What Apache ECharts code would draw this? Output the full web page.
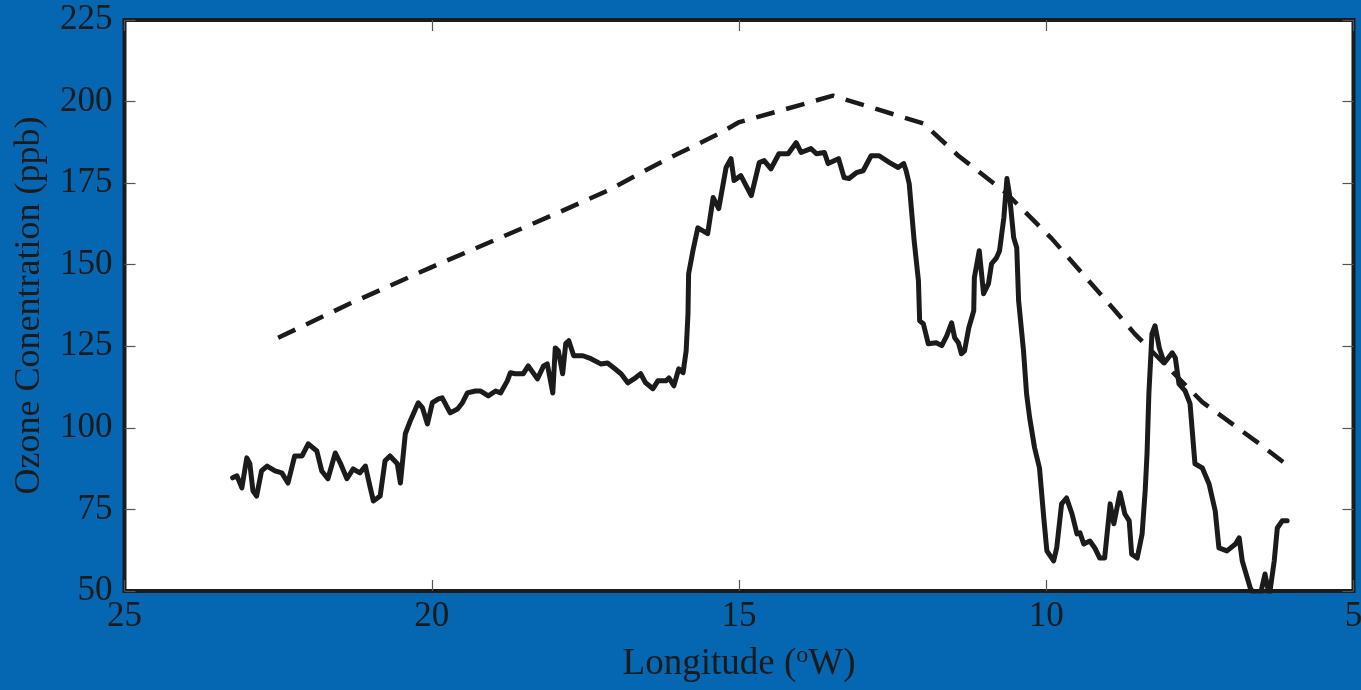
<!DOCTYPE html>
<html>
<head>
<meta charset="utf-8">
<script src="https://cdn.jsdelivr.net/npm/echarts@6/dist/echarts.min.js"></script>
<style>
html,body{margin:0;padding:0;background:#0567b1;}
#chart{width:1361px;height:690px;}
</style>
</head>
<body>
<div id="chart"></div>
<script>
// Measured ozone (solid line): longitude (°W) and concentration (ppb)
const measuredLon = [23.24,23.17,23.09,23.01,22.96,22.91,22.85,22.77,22.68,22.55,22.44,22.34,22.23,22.11,22.01,21.87,21.79,21.69,21.57,21.49,21.38,21.28,21.17,21.08,21.00,20.95,20.84,20.76,20.68,20.56,20.51,20.43,20.35,20.22,20.15,20.07,19.99,19.89,19.83,19.70,19.58,19.50,19.42,19.29,19.21,19.08,18.96,18.88,18.77,18.72,18.64,18.51,18.43,18.28,18.18,18.12,18.03,17.99,17.94,17.87,17.82,17.77,17.69,17.54,17.41,17.25,17.14,17.04,16.92,16.81,16.71,16.60,16.52,16.40,16.32,16.19,16.14,16.06,15.98,15.91,15.86,15.83,15.82,15.75,15.67,15.51,15.42,15.33,15.21,15.13,15.08,14.97,14.80,14.67,14.59,14.48,14.35,14.20,14.07,13.99,13.83,13.74,13.61,13.55,13.38,13.29,13.21,13.09,12.98,12.85,12.72,12.55,12.41,12.32,12.28,12.23,12.15,12.08,12.06,12.00,11.92,11.79,11.70,11.62,11.54,11.49,11.43,11.38,11.33,11.26,11.18,11.17,11.09,11.02,10.94,10.89,10.81,10.76,10.69,10.64,10.60,10.53,10.48,10.45,10.37,10.32,10.27,10.19,10.11,10.04,9.99,9.88,9.83,9.75,9.67,9.58,9.50,9.45,9.39,9.29,9.21,9.13,9.05,8.96,8.90,8.80,8.72,8.65,8.61,8.52,8.44,8.39,8.36,8.33,8.28,8.23,8.16,8.08,7.95,7.90,7.84,7.74,7.66,7.58,7.46,7.35,7.25,7.19,7.06,6.92,6.86,6.81,6.68,6.60,6.52,6.44,6.37,6.29,6.24,6.16,6.08];
const measuredO3 = [84.7,85.3,81.6,90.8,89.0,80.7,79.1,86.8,88.3,86.8,86.2,83.1,91.4,91.4,95.1,92.9,86.8,84.4,92.3,89.3,84.4,87.4,86.2,88.3,81.6,77.6,79.1,89.9,91.4,89.0,83.1,98.2,102.1,107.7,106.1,101.2,107.7,108.9,109.2,104.6,105.8,107.7,110.7,111.3,111.3,109.8,111.3,110.7,114.4,116.9,116.6,116.6,119.0,115.0,119.0,119.6,110.7,124.5,123.6,116.6,125.8,126.7,122.1,122.1,121.2,119.6,119.9,118.4,116.6,113.8,115.0,116.6,113.8,112.0,114.4,114.4,115.3,112.9,118.1,116.9,123.6,135.0,147.2,154.3,161.3,159.5,170.6,167.2,179.8,182.5,175.8,177.3,171.2,181.3,181.9,179.4,184.0,184.0,187.4,184.4,185.6,184.0,184.4,181.0,182.5,176.7,176.4,178.2,178.8,183.4,183.4,181.3,179.8,181.0,178.8,174.8,157.4,145.1,132.8,131.9,125.8,126.1,125.2,128.2,132.2,127.6,126.1,122.7,123.6,130.7,135.9,146.0,154.3,141.1,144.2,150.3,152.1,154.3,164.4,176.4,171.8,158.3,155.2,139.0,123.6,110.4,103.1,93.9,87.7,72.4,62.3,59.2,63.2,76.7,78.5,73.6,67.5,67.8,64.4,65.3,63.2,60.1,60.1,76.7,70.6,80.1,73.6,71.5,61.3,60.1,67.5,80.7,92.0,110.4,128.8,131.3,124.5,119.9,123.0,121.5,113.5,111.3,107.4,89.0,87.7,82.8,74.5,63.2,62.3,64.4,66.3,59.2,50.9,48.5,48.5,55.2,48.5,59.2,69.3,71.5,71.5];

// Modelled ozone (dashed line)
const modelLon = [22.50,21.33,20.01,18.88,17.90,17.14,16.22,15.29,15.01,13.47,12.00,11.43,10.66,9.91,8.88,8.56,7.46,6.53,6.11];
const modelO3  = [127.6,138.1,149.2,158.3,166.3,172.7,181.9,190.5,193.6,201.8,193.3,183.4,172.1,158.0,135.9,128.8,107.9,95.1,89.0];

const xTicks = [25, 20, 15, 10, 5];
const yTicks = [50, 75, 100, 125, 150, 175, 200, 225];

const ink = '#1b1b1b';
const fontFam = '"Liberation Serif", "DejaVu Serif", serif';

const measured = measuredLon.map((v, i) => [v, measuredO3[i]]);
const model = modelLon.map((v, i) => [v, modelO3[i]]);

const xMin = Math.min(...xTicks), xMax = Math.max(...xTicks);
const yMin = Math.min(...yTicks), yMax = Math.max(...yTicks);
const xStep = xTicks[0] - xTicks[1], yStep = yTicks[1] - yTicks[0];

const tickStyle = { show: true, inside: true, length: 11, lineStyle: { color: '#555', width: 1.2 } };

const chart = echarts.init(document.getElementById('chart'), null, { renderer: 'canvas' });
chart.setOption({
  backgroundColor: '#0567b1',
  animation: false,
  grid: {
    left: 124.5, right: 7.5, top: 20, bottom: 99,
    outerBoundsMode: 'none', containLabel: false,
    show: true, backgroundColor: '#ffffff', borderColor: ink, borderWidth: 4
  },
  xAxis: [{
    type: 'value', inverse: true, min: xMin, max: xMax, interval: xStep,
    position: 'bottom',
    axisLine: { show: false },
    axisTick: tickStyle,
    splitLine: { show: false },
    axisLabel: { color: ink, fontFamily: fontFam, fontSize: 35, margin: 8 },
    name: '{t|Longitude (}{s|o}{t|W)}',
    nameLocation: 'middle', nameGap: 53,
    nameTextStyle: {
      rich: {
        t: { fontFamily: fontFam, fontSize: 37, color: ink, lineHeight: 40 },
        s: { fontFamily: fontFam, fontSize: 24, color: ink, lineHeight: 22, verticalAlign: 'top' }
      }
    }
  }, {
    type: 'value', inverse: true, min: xMin, max: xMax, interval: xStep,
    position: 'top',
    axisLine: { show: false },
    axisTick: tickStyle,
    axisLabel: { show: false },
    splitLine: { show: false }
  }],
  yAxis: [{
    type: 'value', min: yMin, max: yMax, interval: yStep,
    position: 'left',
    axisLine: { show: false },
    axisTick: tickStyle,
    splitLine: { show: false },
    axisLabel: { color: ink, fontFamily: fontFam, fontSize: 35, margin: 12 },
    name: 'Ozone Conentration (ppb)',
    nameLocation: 'middle', nameGap: 77,
    nameTextStyle: { color: ink, fontFamily: fontFam, fontSize: 36 }
  }, {
    type: 'value', min: yMin, max: yMax, interval: yStep,
    position: 'right',
    axisLine: { show: false },
    axisTick: tickStyle,
    axisLabel: { show: false },
    splitLine: { show: false }
  }],
  series: [{
    name: 'Model',
    type: 'line',
    data: model,
    showSymbol: false,
    clip: true,
    lineStyle: { color: ink, width: 4.5, type: [19, 12], cap: 'butt' },
    z: 2
  }, {
    name: 'Measured',
    type: 'line',
    data: measured,
    showSymbol: false,
    clip: true,
    lineStyle: { color: ink, width: 5, cap: 'round', join: 'round' },
    z: 3
  }]
});
</script>
</body>
</html>
